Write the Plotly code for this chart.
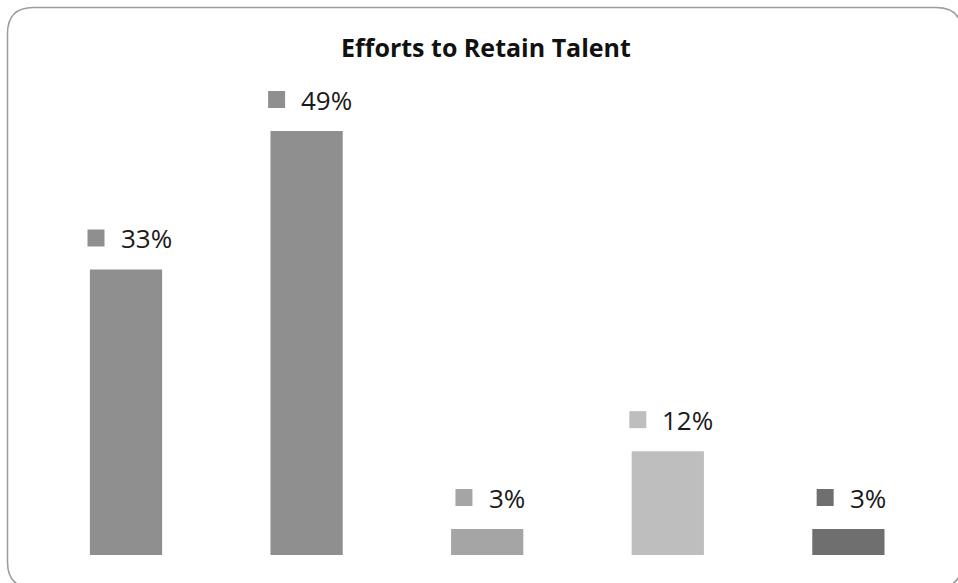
import plotly.graph_objects as go

categories = ["Series 1", "Series 2", "Series 3", "Series 4", "Series 5"]
values = [0.33, 0.49, 0.03, 0.12, 0.03]
labels = ["33%", "49%", "3%", "12%", "3%"]
colors = ["#8f8f8f", "#8f8f8f", "#a5a5a5", "#bebebe", "#6f6f6f"]
title = "Efforts to Retain Talent"

W, H = 958, 583
FONT = "Open Sans"

fig = go.Figure(go.Bar(
    x=categories, y=values, marker=dict(color=colors, line=dict(width=0)),
    width=0.4, hoverinfo="skip",
))

annotations = []
shapes = []
for c, v, lab, col in zip(categories, values, labels, colors):
    annotations.append(dict(
        x=c, y=v, xref="x", yref="y", text=lab, showarrow=False,
        xanchor="center", yanchor="middle", xshift=20, yshift=31,
        font=dict(family=FONT, size=26, color="#1a1a1a"),
    ))
    tw = 13.5 * (len(lab) - 1) + 25
    kc = -4 - tw / 2
    shapes.append(dict(
        type="rect", xref="x", yref="y", xsizemode="pixel", ysizemode="pixel",
        xanchor=c, yanchor=v, x0=kc - 8.5, x1=kc + 8.5, y0=23, y1=40,
        fillcolor=col, line=dict(width=0),
    ))

# rounded outer border
x0, x1, y0, y1, r = 7.5, 962, 7.5, 588, 26
def px(x): return x / W
def py(y): return 1 - y / H
path = (f"M {px(x0 + r)},{py(y0)} L {px(x1 - r)},{py(y0)} "
        f"Q {px(x1)},{py(y0)} {px(x1)},{py(y0 + r)} "
        f"L {px(x1)},{py(y1 - r)} Q {px(x1)},{py(y1)} {px(x1 - r)},{py(y1)} "
        f"L {px(x0 + r)},{py(y1)} Q {px(x0)},{py(y1)} {px(x0)},{py(y1 - r)} "
        f"L {px(x0)},{py(y0 + r)} Q {px(x0)},{py(y0)} {px(x0 + r)},{py(y0)} Z")
shapes.append(dict(type="path", xref="paper", yref="paper", path=path,
                   line=dict(color="#9c9c9c", width=1.5), layer="below"))

fig.update_layout(
    width=W, height=H, margin=dict(l=0, r=0, t=0, b=0),
    paper_bgcolor="white", plot_bgcolor="white", showlegend=False,
    title=dict(text=f"<b>{title}</b>", x=486 / W, xanchor="center",
               y=1 - 48 / H, yanchor="middle",
               font=dict(family=FONT, size=25, color="#111111")),
    xaxis=dict(domain=[35.7 / W, 938.7 / W], range=[-0.5, 4.5], visible=False,
               type="category"),
    yaxis=dict(domain=[28 / H, 503.9 / H], range=[0, 0.55], visible=False),
    annotations=annotations, shapes=shapes,
)

fig.write_html("out.html")
